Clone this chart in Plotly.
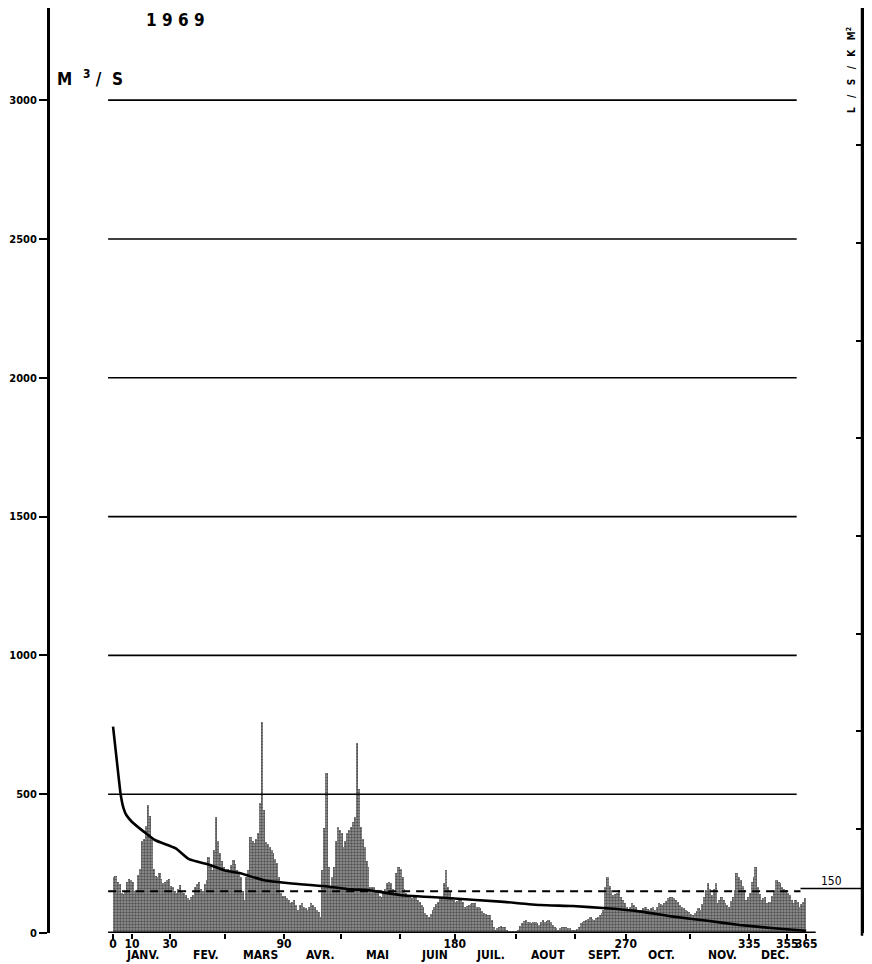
import plotly.graph_objects as go

# ---------------- data ----------------
year = "1969"
jan = [200, 205, 185, 175, 145, 140, 150, 185, 195, 190, 185, 150, 155, 210, 230, 330, 340, 385, 460, 420,
       345, 230, 205, 200, 215, 195, 180, 185, 190, 195, 170]
feb = [165, 150, 143, 160, 173, 150, 143, 138, 125, 119, 130, 138, 165, 175, 185, 160, 150, 175, 191, 275,
       250, 227, 300, 419, 330, 287, 260, 239]
mar = [225, 230, 227, 245, 263, 250, 227, 215, 203, 150, 119, 200, 227, 347, 330, 323, 340, 359, 467, 761,
       443, 329, 320, 311, 300, 287, 265, 251, 203, 144, 135]
apr = [132, 125, 119, 108, 112, 119, 100, 83, 100, 108, 95, 90, 83, 95, 108, 100, 95, 83, 75, 59,
       227, 380, 575, 239, 168, 200, 239, 330, 383, 371]
may = [360, 311, 330, 359, 370, 383, 400, 419, 683, 520, 383, 340, 311, 260, 239, 167, 167, 165, 150, 143,
       135, 131, 143, 160, 179, 185, 179, 160, 143, 215, 239]
jun = [230, 203, 160, 143, 135, 131, 125, 128, 131, 120, 113, 100, 95, 71, 65, 59, 70, 83, 95, 105,
       113, 125, 131, 180, 227, 167, 150, 131, 120, 113]
jul = [115, 119, 122, 110, 95, 98, 100, 105, 107, 107, 95, 92, 89, 80, 71, 68, 65, 65, 47, 20,
       11, 18, 23, 25, 22, 20, 12, 8, 8, 8, 8]
aug = [8, 10, 25, 35, 42, 47, 41, 38, 35, 38, 41, 35, 29, 40, 47, 41, 44, 47, 38, 29,
       22, 17, 11, 18, 23, 20, 20, 18, 17, 11, 11]
sep = [11, 15, 20, 35, 41, 44, 47, 52, 59, 52, 47, 53, 58, 65, 72, 83, 167, 203, 170, 155,
       137, 140, 143, 155, 130, 119, 107, 95, 83, 95]
octo = [107, 101, 95, 83, 83, 83, 90, 95, 88, 83, 90, 95, 83, 95, 107, 104, 101, 107, 115, 125,
        128, 131, 125, 119, 110, 101, 95, 90, 83, 80, 77]
nov = [70, 65, 71, 78, 89, 83, 105, 131, 155, 179, 160, 137, 160, 179, 107, 120, 131, 120, 107, 100,
       95, 115, 131, 155, 215, 200, 191, 170, 155, 119]
dec = [130, 143, 185, 200, 239, 167, 140, 119, 125, 131, 107, 110, 113, 135, 155, 191, 185, 179, 167, 160,
       155, 145, 137, 120, 107, 119, 110, 95, 105, 113, 125]

# flow-duration curve (m3/s) read at these day counts
duration_days = [0, 2, 4, 5.5, 7, 10, 16, 22, 33, 40, 51, 59, 67, 79, 93, 111, 125, 134, 151, 178,
                 204, 225, 242, 260, 278, 295, 313, 330, 348, 365]
duration_flow = [743, 620, 500, 450, 425, 400, 366, 335, 305, 266, 245, 225, 215, 191, 179, 169, 157, 155, 137, 125,
                 113, 101, 97, 89, 77, 59, 44, 29, 17, 8]

mean_flow = 150
grid_levels = [500, 1000, 1500, 2000, 2500, 3000]
y_ticks = [0, 500, 1000, 1500, 2000, 2500, 3000]
day_ticks = [0, 10, 30, 59, 90, 120, 151, 180, 212, 243, 270, 304, 335, 355, 365]
day_tick_text = ["0", "10", "30", "", "90", "", "", "180", "", "", "270", "", "335", "355", "365"]
month_names = ["JANV.", "FEV.", "MARS", "AVR.", "MAI", "JUIN", "JUIL.", "AOUT", "SEPT.", "OCT.", "NOV.", "DEC."]
month_label_days = [15.5, 49, 77.5, 109, 139, 169.5, 199, 229, 259, 289, 321, 348.5]
specific_ticks = [1, 2, 3, 4, 5, 6, 7, 8]     # L/S/KM2
m3s_per_specific_unit = 352                   # m3/s for 1 L/S/KM2

# ---------------- build ----------------
months = [jan, feb, mar, apr, may, jun, jul, aug, sep, octo, nov, dec]
daily_flow = [v for m in months for v in m]
day_centres = [i + 0.5 for i in range(len(daily_flow))]

# the page body adds an 8px offset; the figure is sized so that it fits the visible window
OFF = 8
W, H = 856, 956
ML, MR, MT, MB = 42, 2, 0, 31
XR = [-33.2, 394.4]
YR = [0, 3332]
RIGHT_SHIFT = 22   # the right scale sits slightly higher in the original drawing

def sx(x):
    """window pixel x -> paper x"""
    return (x - OFF - ML) / (W - ML - MR)

def sy(y):
    """window pixel y -> paper y"""
    return (H - MB - (y - OFF)) / (H - MT - MB)

FONT = "DejaVu Sans Condensed, DejaVu Sans, sans-serif"
NB = "\u00a0"

fig = go.Figure()
fig.add_trace(go.Bar(
    x=day_centres, y=daily_flow, width=1.0,
    marker=dict(color="#777777", line=dict(width=0),
                pattern=dict(shape=".", size=3, solidity=0.5, fgcolor="#111111", bgcolor="#959595")),
    hoverinfo="skip", showlegend=False))

fig.add_trace(go.Scatter(
    x=duration_days, y=duration_flow, mode="lines",
    line=dict(color="black", width=2.6, shape="spline", smoothing=0.5),
    hoverinfo="skip", showlegend=False))

# invisible trace to activate right axis
fig.add_trace(go.Scatter(x=[XR[0]], y=[1], yaxis="y2", mode="markers",
                         marker=dict(opacity=0), showlegend=False, hoverinfo="skip"))

shapes = []
for g in grid_levels:
    shapes.append(dict(type="line", xref="x", yref="y", x0=-2.6, x1=360, y0=g, y1=g,
                       line=dict(color="black", width=1.6), layer="above"))
# mean dashed line
shapes.append(dict(type="line", xref="x", yref="y", x0=-2.6, x1=362, y0=mean_flow, y1=mean_flow,
                   line=dict(color="black", width=2, dash="8px,6px"), layer="above"))
# mean continuation on the right
x_end = (362 - XR[0]) / (XR[1] - XR[0])
shapes.append(dict(type="line", xref="paper", yref="y", x0=x_end, x1=1.01, y0=mean_flow + 10, y1=mean_flow + 10,
                   line=dict(color="black", width=1.5), layer="above"))
# bottom axis line
shapes.append(dict(type="line", xref="x", yref="y", x0=-2.6, x1=370, y0=0, y1=0,
                   line=dict(color="black", width=3), layer="above"))
# right frame line (specific discharge scale)
shapes.append(dict(type="line", xref="paper", yref="paper", x0=1, x1=1, y0=-0.003, y1=1,
                   line=dict(color="black", width=2.5), layer="above"))

def ann(text, x, y, size, bold=True, xanchor="center", **kw):
    return dict(text=text, x=x, y=y, xref="paper", yref="paper", showarrow=False,
                xanchor=xanchor, yanchor="middle",
                font=dict(family=FONT, size=size, color="black", weight="bold" if bold else "normal"), **kw)

rlabel = (NB * 3).join(["L", "/", "S", "/", "K", "M<sup>2</sup>"])
annotations = [
    ann(NB.join(year), sx(175), sy(20), 17),
    ann("M" + NB * 2 + "<sup>3</sup>" + NB + "/" + NB * 2 + "S", sx(55), sy(78), 17, xanchor="left"),
    ann(rlabel, sx(851), sy(70), 10, textangle=-90),
    ann(str(mean_flow), sx(831), sy(881), 12, bold=False),
]
for name, d in zip(month_names, month_label_days):
    annotations.append(dict(text=name, x=d, y=sy(955), xref="x", yref="paper", showarrow=False,
                            xanchor="center", yanchor="middle",
                            font=dict(family=FONT, size=12, color="black", weight="bold")))

fig.update_layout(
    width=W, height=H,
    margin=dict(l=ML, r=MR, t=MT, b=MB, pad=0, autoexpand=False),
    paper_bgcolor="white", plot_bgcolor="white",
    bargap=0, showlegend=False,
    shapes=shapes, annotations=annotations,
    xaxis=dict(range=XR, showgrid=False, zeroline=False, showline=False, automargin=False,
               tickmode="array", tickvals=day_ticks, ticktext=day_tick_text, tickangle=0,
               ticks="outside", ticklen=5, tickwidth=2, tickcolor="black", ticklabelstandoff=-5,
               tickfont=dict(family=FONT, size=12, color="black", weight="bold")),
    yaxis=dict(range=YR, showgrid=False, zeroline=False, showline=True, linewidth=3, linecolor="black",
               automargin=False,
               tickmode="array", tickvals=y_ticks, ticktext=[str(v) for v in y_ticks],
               ticks="outside", ticklen=8, tickwidth=2, tickcolor="black",
               tickfont=dict(family=FONT, size=11, color="black", weight="bold")),
    yaxis2=dict(overlaying="y", side="right", automargin=False,
                range=[(YR[0] - RIGHT_SHIFT) / m3s_per_specific_unit, (YR[1] - RIGHT_SHIFT) / m3s_per_specific_unit],
                showgrid=False, zeroline=False, showline=True, linewidth=2.5, linecolor="black",
                tickmode="array", tickvals=specific_ticks, showticklabels=False,
                ticks="inside", ticklen=6, tickwidth=1.5, tickcolor="black"),
)

fig.write_html("out.html")
